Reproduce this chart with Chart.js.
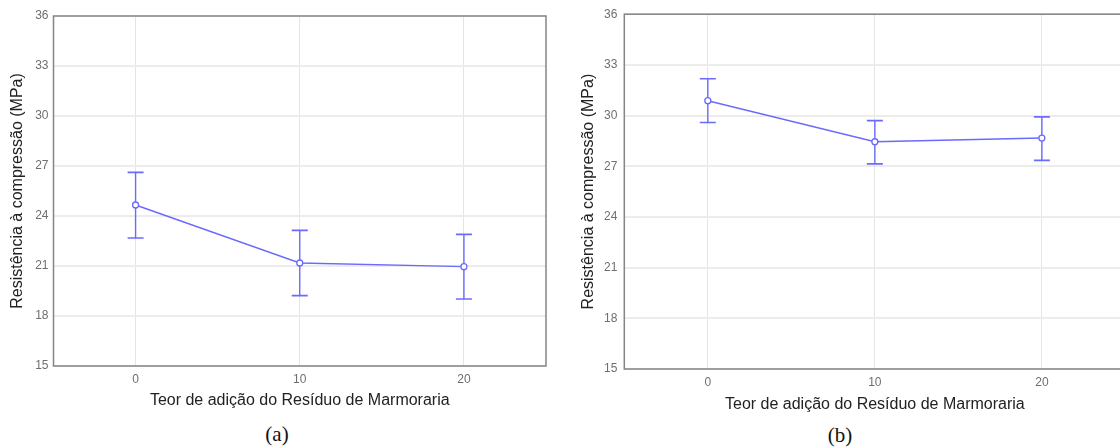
<!DOCTYPE html>
<html>
<head>
<meta charset="utf-8">
<script src="https://cdn.jsdelivr.net/npm/chart.js@4.4.1/dist/chart.umd.min.js"></script>
<style>
  html, body { margin: 0; padding: 0; background: #fff; width: 1120px; height: 448px; overflow: hidden; }
  .wrap { position: absolute; top: 0; height: 420px; }
  .cap { position: absolute; font-family: "Liberation Serif", "DejaVu Serif", serif; font-size: 21px; color: #111; transform: translateX(-50%); }
</style>
</head>
<body>
<div class="wrap" style="left:0; width:556px;"><canvas id="chartA"></canvas></div>
<div class="wrap" style="left:560px; width:575px;"><canvas id="chartB"></canvas></div>
<div class="cap" style="left:277px; top:422px;">(a)</div>
<div class="cap" style="left:840px; top:423px;">(b)</div>
<script>
// teor de adição (%)
var xValues = [0, 10, 20];
var xTicks = [0, 10, 20];
var yTicks = [15, 18, 21, 24, 27, 30, 33, 36];

// (a) média e intervalo
var meanA = [24.66, 21.18, 20.96];
var lowA = [22.68, 19.22, 19.02];
var highA = [26.62, 23.14, 22.90];

// (b) média e intervalo
var meanB = [30.88, 28.45, 28.67];
var lowB = [29.59, 27.14, 27.35];
var highB = [32.18, 29.70, 29.92];

var yTitle = 'Resistência à compressão (MPa)';
var xTitle = 'Teor de adição do Resíduo de Marmoraria';

var blue = '#6a6aff';

// frame round the plot area
var framePlugin = {
    id: 'frame',
    afterDraw: function(chart) {
        var a = chart.chartArea, c = chart.ctx;
        c.save();
        c.strokeStyle = '#858585';
        c.lineWidth = 1.5;
        c.strokeRect(a.left, a.top, a.right - a.left, a.bottom - a.top);
        c.restore();
    }
};

function makePanel(id, mean, low, high, lay) {
    var datasets = [{
        data: xValues.map(function(x, i) { return {x: x, y: mean[i]}; }),
        showLine: true,
        borderColor: blue,
        borderWidth: 1.4,
        pointRadius: 3,
        pointBackgroundColor: '#fff',
        pointBorderColor: blue,
        pointBorderWidth: 1.3
    }];
    // error bars: a vertical line with a 'line' point style as the caps
    xValues.forEach(function(x, i) {
        datasets.push({
            data: [{x: x, y: low[i]}, {x: x, y: high[i]}],
            showLine: true,
            borderColor: blue,
            borderWidth: 1.4,
            pointStyle: 'line',
            pointRadius: 8,
            pointBorderColor: blue,
            pointBorderWidth: 1.6
        });
    });

    return new Chart(document.getElementById(id), {
        type: 'scatter',
        data: { datasets: datasets },
        plugins: [framePlugin],
        options: {
            responsive: false,
            animation: false,
            events: [],
            layout: { padding: { top: lay.top, right: lay.right, left: 0, bottom: 0 } },
            plugins: { legend: { display: false }, tooltip: { enabled: false } },
            scales: {
                x: {
                    type: 'linear',
                    min: -5,
                    max: 25,
                    afterBuildTicks: function(axis) { axis.ticks = xTicks.map(function(v) { return {value: v}; }); },
                    afterFit: function(axis) { axis.height = lay.xH; },
                    grid: { color: '#e4e4e4', lineWidth: 1, drawTicks: false },
                    border: { display: false },
                    ticks: { padding: 6, color: '#6e6e6e', font: { family: 'Liberation Sans', size: 12 } },
                    title: { display: true, text: xTitle, color: '#222', padding: { top: lay.xTP, bottom: lay.xTP },
                             font: { family: 'Liberation Sans', size: 16 } }
                },
                y: {
                    min: 15,
                    max: 36,
                    afterBuildTicks: function(axis) { axis.ticks = yTicks.map(function(v) { return {value: v}; }); },
                    afterFit: function(axis) { axis.width = lay.yW; },
                    grid: { color: '#ececec', lineWidth: 2, drawTicks: false },
                    border: { display: false },
                    ticks: { padding: lay.yPad, color: '#6e6e6e', font: { family: 'Liberation Sans', size: 12 } },
                    title: { display: true, text: yTitle, color: '#222', padding: { top: lay.yTP, bottom: lay.yTP },
                             font: { family: 'Liberation Sans', size: 16 } }
                }
            }
        }
    });
}

var canvA = document.getElementById('chartA');
canvA.width = 556; canvA.height = 420;
var canvB = document.getElementById('chartB');
canvB.width = 575; canvB.height = 420;

makePanel('chartA', meanA, lowA, highA, { top: 16, right: 10, xH: 54, yW: 53.5, xTP: 9.5, yTP: 8, yPad: 5 });
makePanel('chartB', meanB, lowB, highB, { top: 12.7, right: 9.5, xH: 51, yW: 64.3, xTP: 5.4, yTP: 19, yPad: 7 });
</script>
</body>
</html>
